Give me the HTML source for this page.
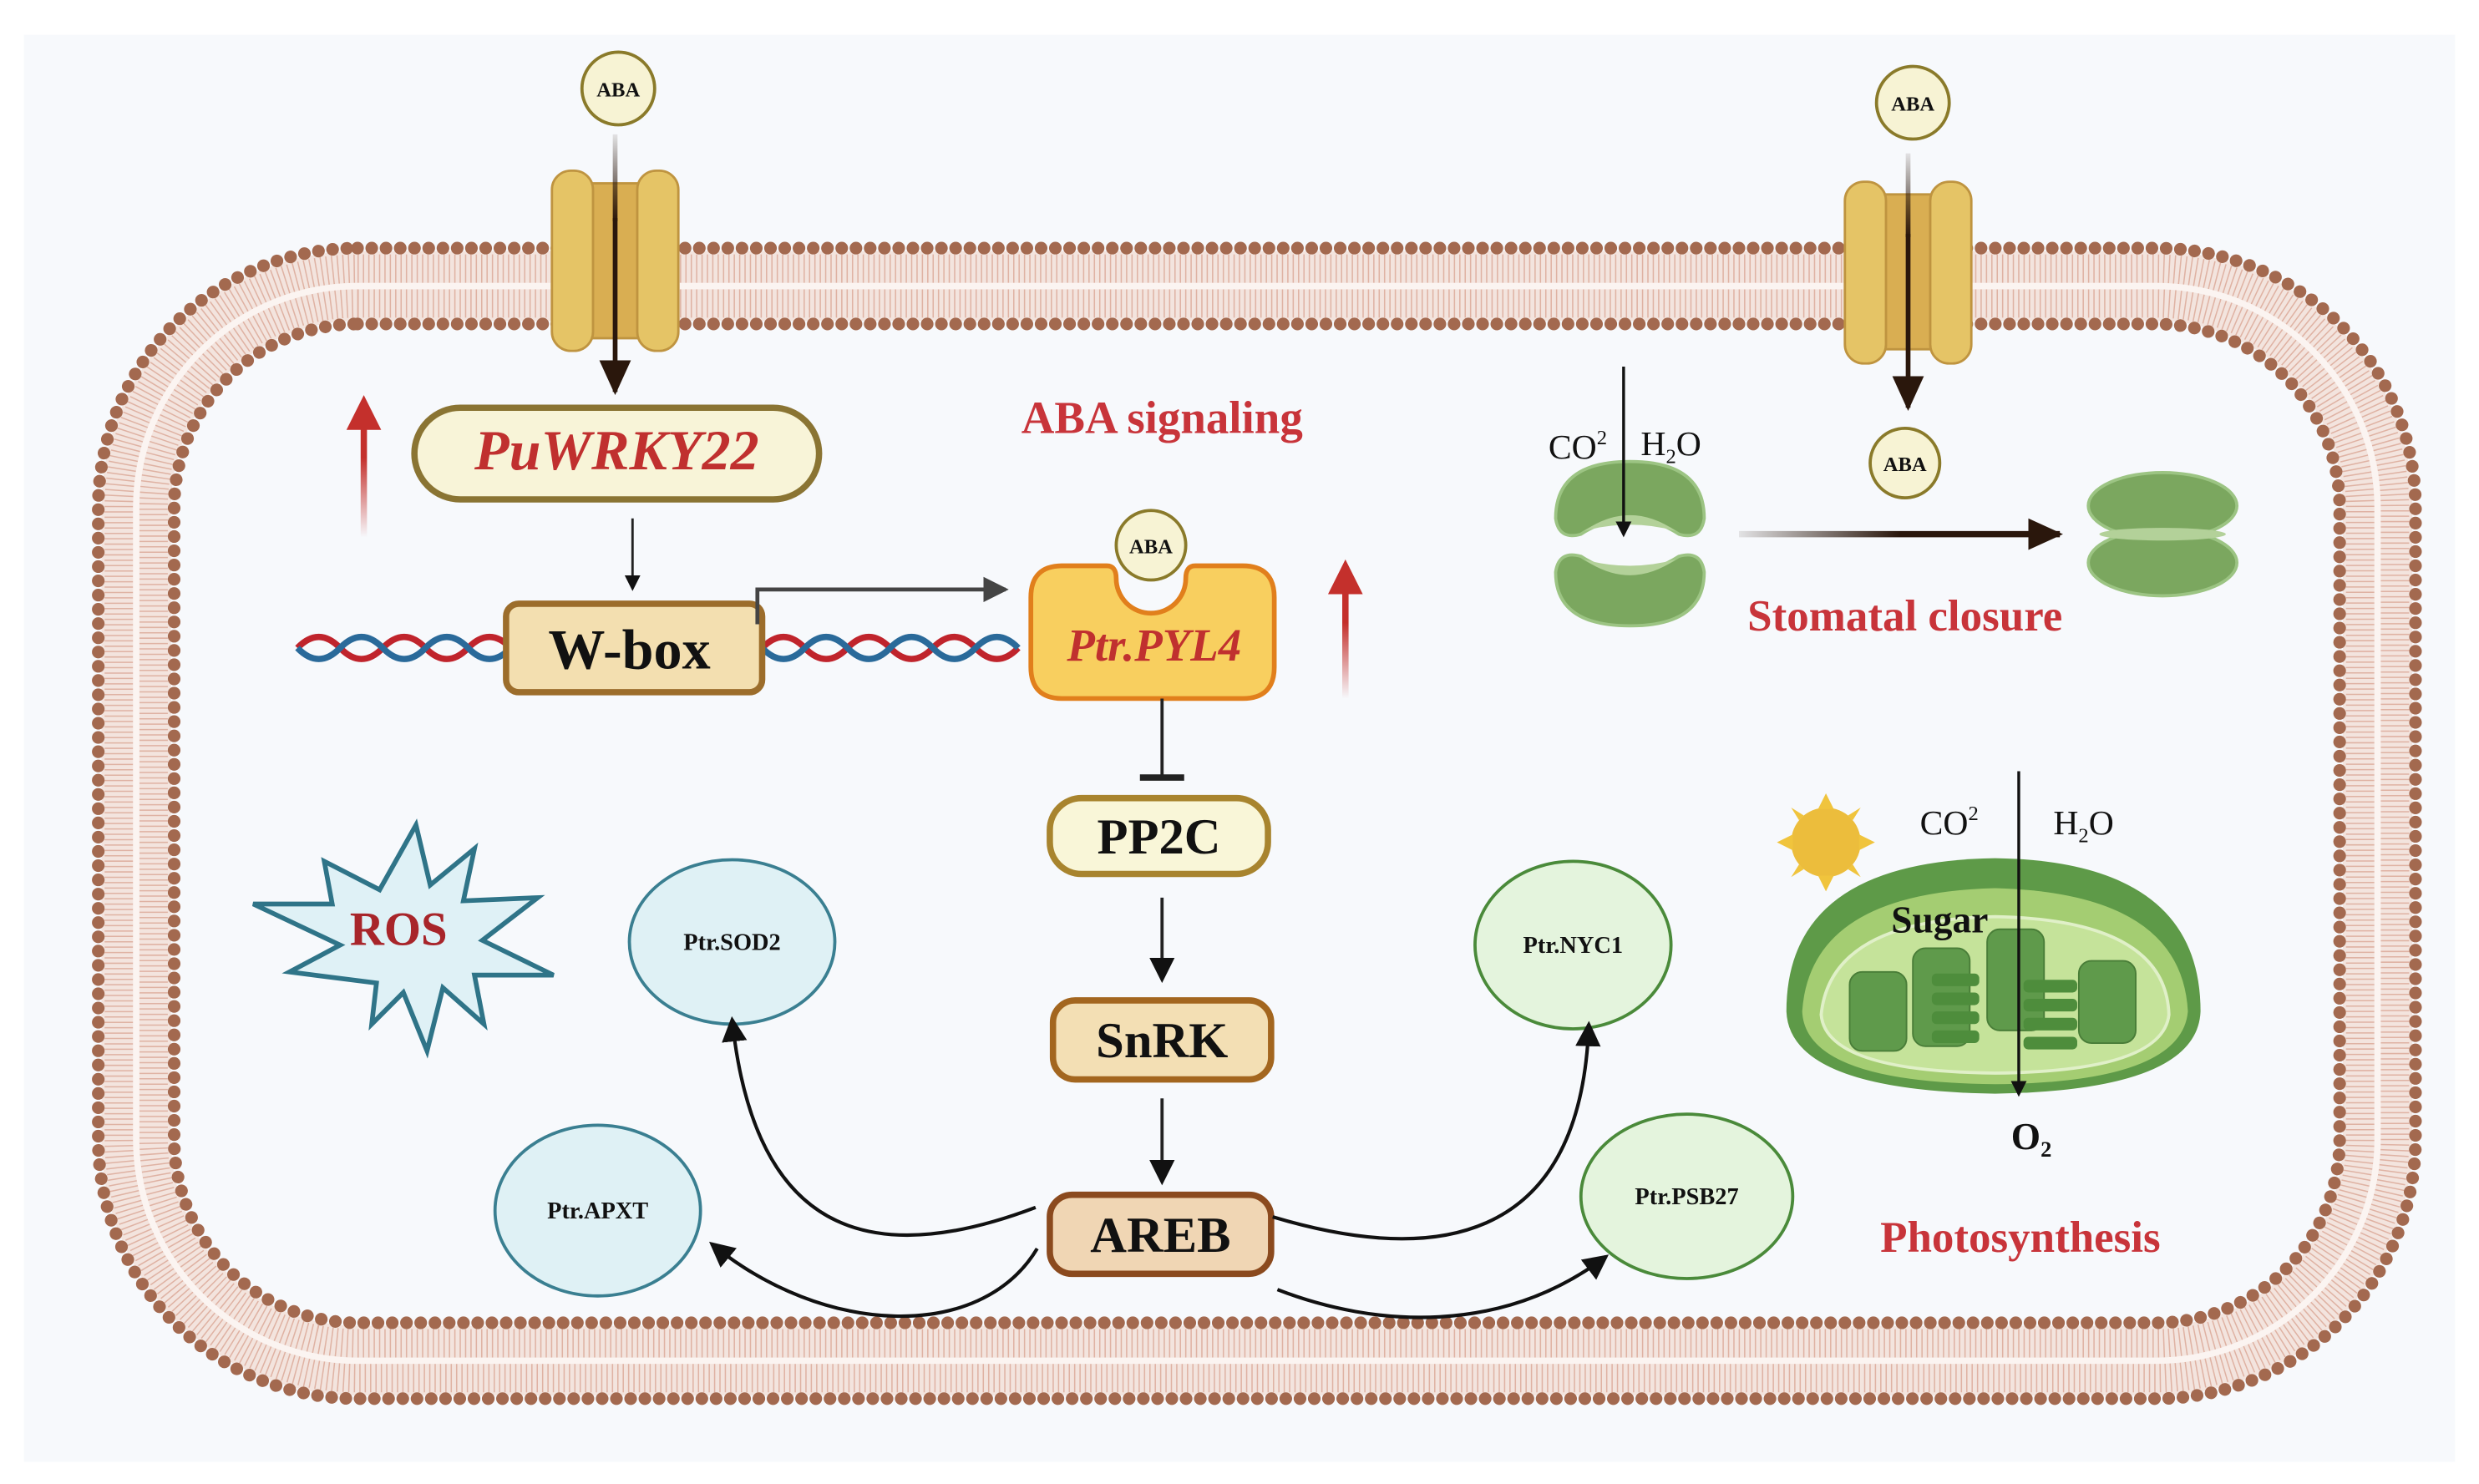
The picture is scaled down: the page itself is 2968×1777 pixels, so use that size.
<!DOCTYPE html>
<html><head><meta charset="utf-8"><style>
html,body{margin:0;padding:0;background:#fff;}
svg{display:block;}
text{font-family:"Liberation Serif",serif;font-weight:bold;}
</style></head><body>
<svg width="2968" height="1777" viewBox="0 0 1568 939" xmlns="http://www.w3.org/2000/svg">
<defs>
<marker id="ah" markerWidth="10" markerHeight="10" refX="8" refY="5" orient="auto" markerUnits="userSpaceOnUse"><path d="M0,0 L10,5 L0,10 Z" fill="#111"/></marker>
<marker id="ahb" markerWidth="22" markerHeight="20" refX="20" refY="10" orient="auto" markerUnits="userSpaceOnUse"><path d="M0,0 L22,10 L0,20 Z" fill="#2a170c"/></marker>
<marker id="ahm" markerWidth="16" markerHeight="16" refX="14" refY="8" orient="auto" markerUnits="userSpaceOnUse"><path d="M0,0 L16,8 L0,16 Z" fill="#111"/></marker>
<marker id="ahg" markerWidth="16" markerHeight="16" refX="14" refY="8" orient="auto" markerUnits="userSpaceOnUse"><path d="M0,0 L16,8 L0,16 Z" fill="#444"/></marker>
<linearGradient id="rg1" gradientUnits="userSpaceOnUse" x1="0" y1="340" x2="0" y2="256"><stop offset="0" stop-color="#c4302c" stop-opacity="0"/><stop offset="0.6" stop-color="#c4302c"/><stop offset="1" stop-color="#c4302c"/></linearGradient>
<linearGradient id="rg2" gradientUnits="userSpaceOnUse" x1="0" y1="442" x2="0" y2="362"><stop offset="0" stop-color="#c4302c" stop-opacity="0"/><stop offset="0.6" stop-color="#c4302c"/><stop offset="1" stop-color="#c4302c"/></linearGradient>
<linearGradient id="hg" gradientUnits="userSpaceOnUse" x1="1100" y1="0" x2="1303" y2="0"><stop offset="0" stop-color="#2a170c" stop-opacity="0.1"/><stop offset="0.5" stop-color="#2a170c"/><stop offset="1" stop-color="#2a170c"/></linearGradient>
<linearGradient id="ag" gradientUnits="userSpaceOnUse" x1="0" y1="85" x2="0" y2="140"><stop offset="0" stop-color="#2a170c" stop-opacity="0.1"/><stop offset="1" stop-color="#2a170c"/></linearGradient>
<linearGradient id="ag2" gradientUnits="userSpaceOnUse" x1="0" y1="97" x2="0" y2="150"><stop offset="0" stop-color="#2a170c" stop-opacity="0.1"/><stop offset="1" stop-color="#2a170c"/></linearGradient>
</defs>
<rect x="0" y="0" width="1568" height="939" fill="#fff"/>
<rect x="15" y="22" width="1538" height="903" fill="#f7f9fc"/>

<!-- membrane -->
<rect x="86" y="181" width="1418" height="680" rx="140" fill="none" stroke="#f3e4de" stroke-width="44"/>
<rect x="75" y="170" width="1440" height="702" rx="151" fill="none" stroke="#d9a594" stroke-width="18" stroke-dasharray="0.8 2.6" opacity="0.8"/>
<rect x="97" y="192" width="1396" height="658" rx="129" fill="none" stroke="#d9a594" stroke-width="18" stroke-dasharray="0.8 2.6" opacity="0.8"/>
<rect x="86" y="181" width="1418" height="680" rx="140" fill="none" stroke="#fbf4f1" stroke-width="4"/>
<rect x="62" y="157" width="1466" height="728" rx="164" fill="none" stroke="#a3694f" stroke-width="8" stroke-linecap="round" stroke-dasharray="0.01 9"/>
<rect x="110" y="205" width="1370" height="632" rx="116" fill="none" stroke="#a3694f" stroke-width="8" stroke-linecap="round" stroke-dasharray="0.01 9"/>

<!-- channels -->
<g stroke="#bf9440" stroke-width="1.5">
<rect x="370" y="116" width="38" height="98" fill="#d9ae52"/>
<rect x="349" y="108" width="26" height="114" rx="12" fill="#e5c466"/>
<rect x="403" y="108" width="26" height="114" rx="12" fill="#e5c466"/>
<rect x="1188" y="123" width="38" height="98" fill="#d9ae52"/>
<rect x="1167" y="115" width="26" height="115" rx="12" fill="#e5c466"/>
<rect x="1221" y="115" width="26" height="115" rx="12" fill="#e5c466"/>
</g>
<line x1="389" y1="85" x2="389" y2="140" stroke="url(#ag)" stroke-width="3"/>
<line x1="389" y1="138" x2="389" y2="248" stroke="#2a170c" stroke-width="3" marker-end="url(#ahb)"/>
<line x1="1207" y1="97" x2="1207" y2="150" stroke="url(#ag2)" stroke-width="3"/>
<line x1="1207" y1="148" x2="1207" y2="258" stroke="#2a170c" stroke-width="3" marker-end="url(#ahb)"/>

<!-- ABA circles -->
<g fill="#f7f3d4" stroke="#8a7a2a" stroke-width="2">
<circle cx="391" cy="56" r="23"/><circle cx="1210" cy="65" r="23"/><circle cx="1205" cy="293" r="22"/>
</g>
<g font-size="13" text-anchor="middle" fill="#111">
<text x="391" y="61">ABA</text><text x="1210" y="70">ABA</text><text x="1205" y="298">ABA</text>
</g>

<!-- red up arrows -->
<line x1="230" y1="340" x2="230" y2="268" stroke="url(#rg1)" stroke-width="4"/>
<path d="M219,272 L230,250 L241,272 Z" fill="#c4302c"/>
<line x1="851" y1="442" x2="851" y2="372" stroke="url(#rg2)" stroke-width="4"/>
<path d="M840,376 L851,354 L862,376 Z" fill="#c4302c"/>

<!-- PuWRKY22 -->
<rect x="262" y="258" width="256" height="58" rx="29" fill="#f8f4d8" stroke="#8a7433" stroke-width="4"/>
<text x="390" y="297" font-size="36" font-style="italic" fill="#c0302f" text-anchor="middle">PuWRKY22</text>
<text x="735" y="274" font-size="29" fill="#c8343a" text-anchor="middle">ABA signaling</text>

<line x1="400" y1="328" x2="400" y2="372" stroke="#222" stroke-width="1.5" marker-end="url(#ah)"/>

<!-- DNA -->
<path d="M188,410 q13.5,-14 27,0 t27,0 t27,0 t27,0 t27,0 M482,410 q13.5,-14 27,0 t27,0 t27,0 t27,0 t27,0 t27,0" fill="none" stroke="#c0242c" stroke-width="4"/>
<path d="M188,410 q13.5,14 27,0 t27,0 t27,0 t27,0 t27,0 M482,410 q13.5,14 27,0 t27,0 t27,0 t27,0 t27,0 t27,0" fill="none" stroke="#2a6a9a" stroke-width="4"/>

<!-- W-box -->
<rect x="320" y="382" width="162" height="56" rx="8" fill="#f3dfb0" stroke="#9c6d2b" stroke-width="4"/>
<text x="398" y="423" font-size="36" fill="#111" text-anchor="middle">W-box</text>
<path d="M479,395 L479,373 L636,373" fill="none" stroke="#444" stroke-width="2.5" marker-end="url(#ahg)"/>

<!-- PYL4 -->
<path d="M652,378 Q652,358 672,358 L700,358 Q706,358 706,366 A22,22 0 0 0 750,366 Q750,358 756,358 L786,358 Q806,358 806,378 L806,422 Q806,442 786,442 L672,442 Q652,442 652,422 Z" fill="#f8cf5f" stroke="#e17f1c" stroke-width="3"/>
<circle cx="728" cy="345" r="22" fill="#f7f3d4" stroke="#8a7a2a" stroke-width="2"/>
<text x="728" y="350" font-size="13" fill="#111" text-anchor="middle">ABA</text>
<text x="730" y="418" font-size="29" font-style="italic" fill="#c0302f" text-anchor="middle">Ptr.PYL4</text>

<line x1="735" y1="442" x2="735" y2="492" stroke="#222" stroke-width="2"/>
<line x1="721" y1="492" x2="749" y2="492" stroke="#222" stroke-width="4"/>

<!-- PP2C, SnRK, AREB -->
<rect x="664" y="505" width="138" height="48" rx="20" fill="#f9f6d8" stroke="#a8842e" stroke-width="4"/>
<text x="733" y="540" font-size="32" fill="#111" text-anchor="middle">PP2C</text>
<line x1="735" y1="568" x2="735" y2="620" stroke="#222" stroke-width="2" marker-end="url(#ahm)"/>
<rect x="666" y="633" width="138" height="50" rx="14" fill="#f3dfb4" stroke="#a3661f" stroke-width="4"/>
<text x="735" y="669" font-size="32" fill="#111" text-anchor="middle">SnRK</text>
<line x1="735" y1="695" x2="735" y2="748" stroke="#222" stroke-width="2" marker-end="url(#ahm)"/>
<rect x="664" y="756" width="140" height="50" rx="14" fill="#f0d6b4" stroke="#8b4a1e" stroke-width="4"/>
<text x="734" y="792" font-size="32" fill="#111" text-anchor="middle">AREB</text>

<!-- ellipses -->
<ellipse cx="463" cy="596" rx="65" ry="52" fill="#dff1f5" stroke="#3a7f91" stroke-width="2"/>
<ellipse cx="378" cy="766" rx="65" ry="54" fill="#dff1f5" stroke="#3a7f91" stroke-width="2"/>
<ellipse cx="995" cy="598" rx="62" ry="53" fill="#e4f4dd" stroke="#4a8a3a" stroke-width="2"/>
<ellipse cx="1067" cy="757" rx="67" ry="52" fill="#e4f4dd" stroke="#4a8a3a" stroke-width="2"/>
<g font-size="15" fill="#111" text-anchor="middle">
<text x="463" y="601">Ptr.SOD2</text><text x="378" y="771">Ptr.APXT</text>
<text x="995" y="603">Ptr.NYC1</text><text x="1067" y="762">Ptr.PSB27</text>
</g>

<!-- curved arrows -->
<g fill="none" stroke="#111" stroke-width="2.2">
<path d="M655,764 C560,800 478,790 463,645" marker-end="url(#ahm)"/>
<path d="M656,790 C620,850 520,845 450,787" marker-end="url(#ahm)"/>
<path d="M805,770 C905,800 1000,790 1005,648" marker-end="url(#ahm)"/>
<path d="M808,816 C870,840 950,845 1016,795" marker-end="url(#ahm)"/>
</g>

<!-- ROS -->
<polygon points="263,522 272,560 300,537 293,570 340,568 305,595 350,617 300,617 306,648 280,625 270,665 255,628 235,648 238,622 183,615 215,598 160,572 210,572 205,545 240,563" fill="#dff1f6" stroke="#2f7488" stroke-width="3"/>
<text x="252" y="598" font-size="30" fill="#a8252a" text-anchor="middle">ROS</text>

<!-- stomata open -->
<path d="M984,328 Q984,292 1031,292 Q1078,292 1078,328 Q1076,342 1062,338 Q1031,318 1000,338 Q986,342 984,328 Z" fill="#7ba75f" stroke="#9cc483" stroke-width="2"/>
<path d="M984,362 Q986,348 1000,352 Q1031,372 1062,352 Q1076,348 1078,362 Q1078,396 1031,396 Q984,396 984,362 Z" fill="#7ba75f" stroke="#9cc483" stroke-width="2"/>
<path d="M1002,336 Q1031,316 1060,336 Q1031,328 1002,336 Z" fill="#b3d199"/>
<path d="M1002,354 Q1031,374 1060,354 Q1031,362 1002,354 Z" fill="#b3d199"/>
<!-- stomata closed -->
<ellipse cx="1368" cy="320" rx="47" ry="21" fill="#7ba75f" stroke="#9cc483" stroke-width="2"/>
<ellipse cx="1368" cy="356" rx="47" ry="21" fill="#7ba75f" stroke="#9cc483" stroke-width="2"/>
<ellipse cx="1368" cy="338" rx="40" ry="4" fill="#b3d199"/>
<line x1="1100" y1="338" x2="1303" y2="338" stroke="url(#hg)" stroke-width="4" marker-end="url(#ahb)"/>
<line x1="1027" y1="232" x2="1027" y2="338" stroke="#111" stroke-width="1.8" marker-end="url(#ah)"/>
<text x="998" y="290" font-size="22" fill="#111" text-anchor="middle" style="font-weight:normal">CO<tspan font-size="13" dy="-9">2</tspan></text>
<text x="1057" y="288" font-size="22" fill="#111" text-anchor="middle" style="font-weight:normal">H<tspan font-size="13" dy="5">2</tspan><tspan dy="-5">O</tspan></text>
<text x="1205" y="399" font-size="28" fill="#c8343a" text-anchor="middle">Stomatal closure</text>

<!-- sun -->
<g fill="#f0c43d">
<circle cx="1155" cy="533" r="22" fill="#ecbd3c"/>
<path d="M1155,502 L1150,512 L1160,512Z M1155,564 L1150,554 L1160,554Z M1124,533 L1134,528 L1134,538Z M1186,533 L1176,528 L1176,538Z M1133,511 L1138,519 L1141,516Z M1177,511 L1172,519 L1169,516Z M1133,555 L1138,547 L1141,550Z M1177,555 L1172,547 L1169,550Z"/>
</g>
<text x="1233" y="528" font-size="22" fill="#111" text-anchor="middle" style="font-weight:normal">CO<tspan font-size="13" dy="-9">2</tspan></text>
<text x="1318" y="528" font-size="22" fill="#111" text-anchor="middle" style="font-weight:normal">H<tspan font-size="13" dy="5">2</tspan><tspan dy="-5">O</tspan></text>

<!-- chloroplast -->
<path d="M1130,640 Q1130,545 1262,543 Q1392,545 1392,640 Q1390,690 1262,692 Q1132,690 1130,640 Z" fill="#5e9a48"/>
<path d="M1140,640 Q1145,565 1262,562 Q1380,565 1384,640 Q1380,685 1262,686 Q1142,685 1140,640 Z" fill="#a4cd72"/>
<path d="M1152,642 Q1158,582 1262,580 Q1370,582 1372,642 Q1368,678 1262,679 Q1155,678 1152,642 Z" fill="#c5e39a" stroke="#e0f0c8" stroke-width="2"/>
<g fill="#5f9a4b" stroke="#497d38" stroke-width="1">
<rect x="1170" y="615" width="36" height="50" rx="8"/>
<rect x="1210" y="600" width="36" height="62" rx="8"/>
<rect x="1257" y="588" width="36" height="64" rx="8"/>
<rect x="1315" y="608" width="36" height="52" rx="8"/>
</g>
<g fill="#4e8d3c">
<rect x="1222" y="616" width="30" height="8" rx="3"/><rect x="1222" y="628" width="30" height="8" rx="3"/><rect x="1222" y="640" width="30" height="8" rx="3"/><rect x="1222" y="652" width="30" height="8" rx="3"/>
<rect x="1280" y="620" width="34" height="8" rx="3"/><rect x="1280" y="632" width="34" height="8" rx="3"/><rect x="1280" y="644" width="34" height="8" rx="3"/><rect x="1280" y="656" width="34" height="8" rx="3"/>
</g>
<text x="1227" y="590" font-size="24" fill="#111" text-anchor="middle">Sugar</text>
<line x1="1277" y1="488" x2="1277" y2="692" stroke="#111" stroke-width="1.8" marker-end="url(#ah)"/>
<text x="1285" y="727" font-size="24" fill="#111" text-anchor="middle">O<tspan font-size="14" dy="5">2</tspan></text>
<text x="1278" y="792" font-size="28" fill="#c8343a" text-anchor="middle">Photosynthesis</text>
</svg>
</body></html>
